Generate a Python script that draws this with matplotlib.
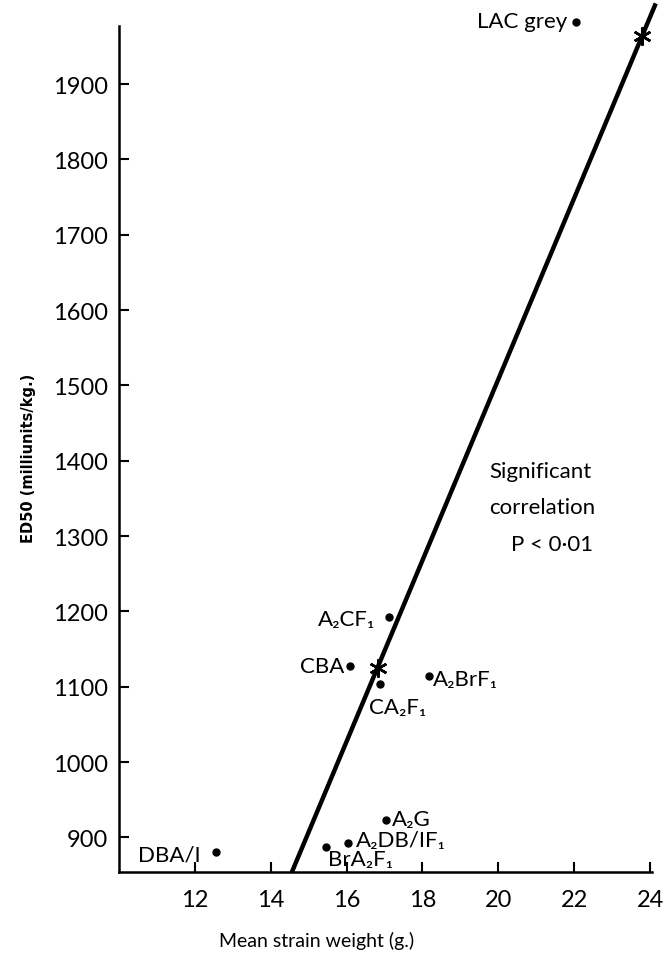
import matplotlib
matplotlib.use("Agg")
import matplotlib.pyplot as plt

# strain data
strains = ["LAC grey", "A₂CF₁", "CBA", "CA₂F₁", "A₂BrF₁", "A₂G", "A₂DB/IF₁", "BrA₂F₁", "DBA/I"]
weight = [22.05, 17.13, 16.10, 16.88, 18.16, 17.03, 16.03, 15.45, 12.57]
ed50 = [1982, 1193, 1127, 1103, 1114, 923, 893, 887, 881]

# label offsets (pixels) and alignment for each strain label
offsets = [(-9, 1), (-14, -2), (-6, 0), (-11, -23), (4, -3), (6, 1), (8, 3), (2, -12), (-16, -3)]
aligns = ["right", "right", "right", "left", "left", "left", "left", "left", "right"]

# regression line and its two marked points
star_x = [16.82, 23.79]
star_y = [1125, 1964]
line_x = [14.55, 24.15]
line_y = [853, 2007]

xticks = [12, 14, 16, 18, 20, 22, 24]
yticks = [900, 1000, 1100, 1200, 1300, 1400, 1500, 1600, 1700, 1800, 1900]

FONT = ["Lato", "DejaVu Sans"]
plt.rcParams["font.family"] = FONT

fig = plt.figure(figsize=(6.64, 9.54), dpi=100)
ax = fig.add_axes([0.1792, 0.0849, 0.8027, 0.8868])

ax.plot(line_x, line_y, color="black", lw=3.2, solid_capstyle="butt", clip_on=False, zorder=3)
ax.plot(star_x, star_y, ls="none", marker=(6, 2, 0), ms=13, mew=1.8, color="black",
        clip_on=False, zorder=4)
ax.plot(weight, ed50, ls="none", marker="o", ms=5, color="black", clip_on=False, zorder=4)

for name, x, y, off, ha in zip(strains, weight, ed50, offsets, aligns):
    ax.annotate(name, xy=(x, y), xytext=off, textcoords="offset pixels",
                ha=ha, va="center", fontsize=16, annotation_clip=False)

ax.text(19.76, 1386, "Significant", fontsize=16, va="center", ha="left")
ax.text(19.76, 1338, "correlation", fontsize=16, va="center", ha="left")
ax.text(20.34, 1289, "P < 0·01", fontsize=16, va="center", ha="left")

ax.set_xlim(10, 24.05)
ax.set_ylim(854, 1977)
ax.set_xticks(xticks)
ax.set_yticks(yticks)
ax.tick_params(direction="in", length=7, width=1.5, labelsize=17, pad=8)
ax.tick_params(axis="x", pad=12)

for side in ["top", "right"]:
    ax.spines[side].set_visible(False)
for side in ["left", "bottom"]:
    ax.spines[side].set_linewidth(1.8)

ax.set_xlabel("Mean strain weight (g.)", fontsize=14)
ax.xaxis.set_label_coords(0.37, -0.07)
ax.set_ylabel("ED50 (milliunits/kg.)", fontsize=10.5, fontweight="bold",
              family=["Liberation Sans Narrow", "DejaVu Sans"])
ax.yaxis.set_label_coords(-0.155, 0.49)

plt.savefig("out.png", dpi=100)
